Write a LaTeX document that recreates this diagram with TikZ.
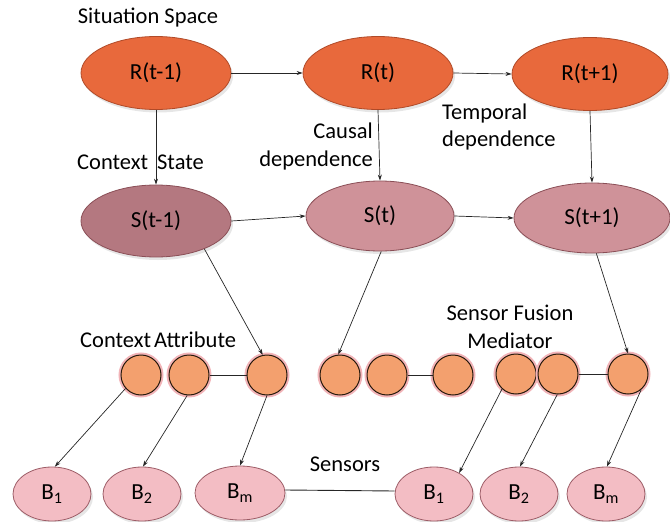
\documentclass[tikz,border=0pt]{standalone}
\usepackage{fontspec}
\setmainfont{Carlito}
\usetikzlibrary{arrows.meta,shapes.geometric,shadows}
\definecolor{rfill}{HTML}{E8693C}
\definecolor{rdraw}{HTML}{B04A28}
\definecolor{sdark}{HTML}{B47880}
\definecolor{slight}{HTML}{CF9299}
\definecolor{sdraw}{HTML}{8A4E56}
\definecolor{cfill}{HTML}{F3A06E}
\definecolor{cglow}{HTML}{F2B4B8}
\definecolor{bfill}{HTML}{F3BDC4}
\definecolor{bdraw}{HTML}{9C5C66}
\tikzset{
  lbl/.style={font=\fontsize{22.5}{28}\selectfont, inner sep=0pt},
  rnode/.style={ellipse, fill=rfill, draw=rdraw, line width=0.8pt, minimum width=150pt, minimum height=73pt, inner sep=0pt, font=\fontsize{23}{26}\selectfont, drop shadow={opacity=0.2, shadow xshift=2pt, shadow yshift=-3pt}},
  snode/.style={ellipse, fill=slight, draw=sdraw, line width=0.8pt, minimum width=150pt, minimum height=70pt, inner sep=0pt, font=\fontsize{23}{26}\selectfont, drop shadow={opacity=0.2, shadow xshift=2pt, shadow yshift=-3pt}},
  cnode/.style={circle, fill=cfill, draw=black!80!brown, line width=1pt, minimum size=40pt, inner sep=0pt, preaction={draw=cglow, line width=5pt}},
  bnode/.style={ellipse, fill=bfill, draw=bdraw, line width=0.8pt, minimum width=78pt, minimum height=54pt, inner sep=0pt, font=\fontsize{23}{26}\selectfont, drop shadow={opacity=0.2, shadow xshift=2pt, shadow yshift=-3pt}},
  arr/.style={-{Stealth[length=6pt,width=4pt]}, line width=0.7pt, black!85},
  plain/.style={line width=0.9pt, black!85}
}
\begin{document}
\begin{tikzpicture}[x=1pt,y=-1pt]
\useasboundingbox (0,0) rectangle (670,522);
% top row
\node[rnode] (R1) at (156,73) {R(t-1)};
\node[rnode] (R2) at (378,73) {R(t)};
\node[rnode, minimum width=156pt] (R3) at (590,74) {R(t+1)};
% middle row
\node[snode, fill=sdark, minimum height=72pt] (S1) at (156,221) {S(t-1)};
\node[snode, minimum width=148pt] (S2) at (380,216) {S(t)};
\node[snode, minimum width=156pt] (S3) at (592,218) {S(t+1)};
% circles
\node[cnode] (c1) at (141,375) {};
\node[cnode] (c2) at (189,375) {};
\node[cnode] (c3) at (267,375) {};
\node[cnode] (c4) at (340,375) {};
\node[cnode] (c5) at (387,375) {};
\node[cnode] (c6) at (453,375) {};
\node[cnode] (c7) at (516,374) {};
\node[cnode] (c8) at (558,374) {};
\node[cnode] (c9) at (628,374) {};
% sensors
\node[bnode] (B1) at (52,494) {B\textsubscript{1}};
\node[bnode] (B2) at (142,494) {B\textsubscript{2}};
\node[bnode, minimum width=90pt] (Bm) at (240,493) {B\textsubscript{m}};
\node[bnode] (B1r) at (434,494) {B\textsubscript{1}};
\node[bnode] (B2r) at (519,494) {B\textsubscript{2}};
\node[bnode] (Bmr) at (606,494) {B\textsubscript{m}};
% labels
\node[lbl] (lss) at (148,18) {Situation Space};
\node[lbl, anchor=west] (lcs) at (77,162) {Context\hspace{9pt}State};
\node[lbl, align=right, anchor=east] (lcd) at (373,146) {Causal\\dependence};
\node[lbl, align=left, anchor=west] (ltd) at (442,127) {Temporal\\dependence};
\node[lbl, anchor=west] (lca) at (80,340) {Context\hspace{3pt}Attribute};
\node[lbl, align=center] (lsf) at (510,327) {Sensor Fusion\\Mediator};
\node[lbl] (lsn) at (345,464) {Sensors};
% connectors
\draw[arr] (R1.east) -- (R2.west);
\draw[arr] (R2.east) -- (R3.west);
\draw[arr] (R1.south) -- (S1.north);
\draw[arr] (R2.south) -- (S2.north);
\draw[arr] (R3.south) -- (S3.north);
\draw[arr] (S1.east) -- (S2.west);
\draw[arr] (S2.east) -- (S3.west);
\draw[arr] (S1.330) -- (c3.102);
\draw[arr] (S2.272) -- (c4.95);
\draw[arr] (S3.277) -- (c9.90);
\draw[plain] (c2) -- (c3);
\draw[plain] (c5) -- (c6);
\draw[plain] (c8) -- (c9);
\draw[plain] ([yshift=3pt]Bm.east) -- ([yshift=3pt]B1r.west);
\draw[arr] (c1.221) -- (B1.84);
\draw[arr] (c2.265) -- (B2.88);
\draw[arr] (c3.270) -- (Bm.90);
\draw[arr] (c7.227) -- (B1r.40);
\draw[arr] (c8.268) -- (B2r.88);
\draw[arr] (c9.310) -- (Bmr.88);
\end{tikzpicture}
\end{document}
